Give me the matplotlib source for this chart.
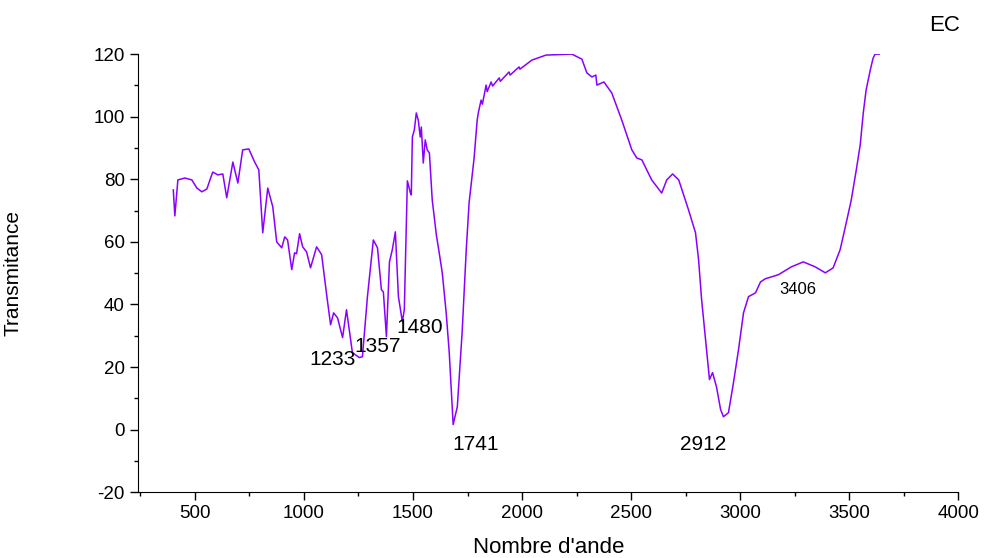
import numpy as np
import matplotlib.pyplot as plt
from matplotlib.ticker import MultipleLocator

plt.rcParams['font.family'] = ['Liberation Sans', 'DejaVu Sans']
plt.rcParams['axes.unicode_minus'] = False

# spectre FTIR
nombre_onde = [401, 408, 422, 454, 486, 509, 532, 555, 569, 582, 605, 628, 646, 674, 697,
               719, 747, 774, 793, 811, 834, 857, 875, 898, 912, 925, 944, 957, 966, 980,
               994, 1012, 1030, 1058, 1081, 1104, 1122, 1136, 1154, 1177, 1195, 1222, 1254,
               1268, 1291, 1318, 1337, 1355, 1364, 1378, 1392, 1405, 1419, 1433, 1451, 1460,
               1474, 1488, 1492, 1497, 1506, 1515, 1524, 1533, 1538, 1547, 1556, 1565, 1575,
               1588, 1607, 1620, 1634, 1652, 1666, 1684, 1703, 1725, 1744, 1757, 1780, 1794,
               1800, 1812, 1818, 1835, 1840, 1858, 1865, 1895, 1900, 1940, 1945, 1986, 1990,
               2045, 2110, 2228, 2274, 2297, 2320, 2338, 2343, 2375, 2411, 2457, 2503, 2526,
               2549, 2594, 2640, 2663, 2690, 2718, 2763, 2795, 2809, 2823, 2841, 2859, 2873,
               2891, 2910, 2923, 2946, 2969, 2992, 3015, 3038, 3070, 3093, 3115, 3175, 3234,
               3289, 3344, 3390, 3426, 3458, 3486, 3509, 3532, 3550, 3564, 3577, 3596, 3609,
               3618, 3637]
transmitance = [76.6, 68.3, 79.8, 80.4, 79.8, 77.2, 76.0, 76.9, 79.8, 82.3, 81.4, 81.7, 74.1,
                85.5, 78.8, 89.4, 89.7, 85.5, 83.0, 62.9, 77.2, 71.2, 60.0, 58.1, 61.6, 60.6,
                51.1, 56.5, 56.2, 62.6, 58.4, 56.8, 51.7, 58.4, 55.9, 43.1, 33.5, 37.3, 35.7,
                29.4, 38.3, 24.6, 23.0, 23.3, 42.5, 60.6, 58.1, 44.7, 44.0, 29.7, 53.6, 57.5,
                63.2, 42.5, 34.5, 38.3, 79.5, 75.6, 75.0, 93.5, 95.8, 101.2, 98.9, 93.5, 96.7,
                85.2, 92.6, 89.4, 88.4, 73.4, 62.2, 56.5, 50.1, 37.3, 24.6, 1.6, 7.3, 31.0,
                57.5, 72.5, 86.8, 98.9, 101.5, 105.3, 104.0, 110.1, 108.0, 111.1, 109.8, 112.4,
                111.3, 114.3, 113.3, 115.9, 115.2, 118.1, 119.7, 120.0, 118.4, 114.0, 112.7,
                113.3, 110.1, 111.1, 107.6, 98.9, 89.4, 86.8, 86.2, 79.8, 75.6, 79.8, 81.7,
                79.8, 70.2, 62.9, 54.3, 41.5, 28.7, 16.0, 18.2, 13.7, 6.4, 4.1, 5.4, 15.0,
                25.5, 37.3, 42.5, 43.7, 47.2, 48.2, 49.5, 52.0, 53.6, 52.0, 50.1, 51.7, 57.5,
                66.1, 73.4, 83.0, 91.0, 101.2, 108.5, 114.9, 118.7, 120.0, 120.0]

pics = ['1233', '1357', '1480', '1741', '2912', '3406']
pics_x = [1131, 1337, 1529, 1785, 2832, 3266]
pics_y = [22.3, 26.5, 32.6, -4.8, -4.8, 44.7]
pics_taille = [15, 15, 15, 15, 15, 12]

fig = plt.figure(figsize=(9.87, 5.58), dpi=100)
ax = fig.add_axes([0.140, 0.118, 0.831, 0.785])

ax.plot(nombre_onde, transmitance, color='#8a00ff', lw=1.1)

for t, px, py, s in zip(pics, pics_x, pics_y, pics_taille):
    ax.text(px, py, t, fontsize=s, ha='center', va='center')

ax.set_xlim(240, 4000)
ax.set_ylim(-20, 120)
ax.xaxis.set_minor_locator(MultipleLocator(250))
ax.yaxis.set_major_locator(MultipleLocator(20))
ax.yaxis.set_minor_locator(MultipleLocator(10))
ax.set_xticks(np.arange(500, 4001, 500))
ax.spines['top'].set_visible(False)
ax.spines['right'].set_visible(False)
ax.tick_params(which='major', direction='out', length=6, width=1, labelsize=13.5)
ax.tick_params(which='minor', direction='out', length=3, width=1)

ax.set_xlabel("Nombre d'ande", fontsize=16)
ax.set_ylabel('Transmitance', fontsize=15)
ax.xaxis.set_label_coords(0.5, -0.102)
ax.yaxis.set_label_coords(-0.141, 0.5)
fig.text(0.957, 0.955, 'EC', fontsize=16, ha='center', va='center')

fig.savefig('out.png', dpi=100)
